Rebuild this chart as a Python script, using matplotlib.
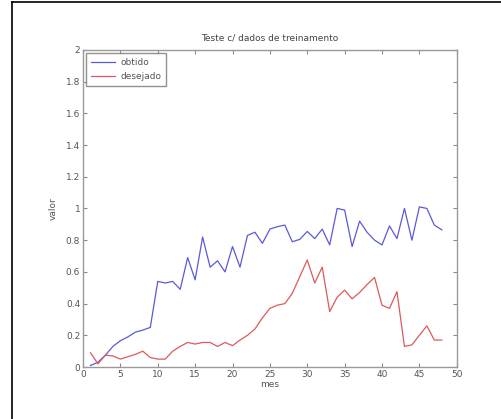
import matplotlib
matplotlib.use("Agg")
import matplotlib.pyplot as plt
from matplotlib.lines import Line2D

meses = list(range(1, 49))
obtido = [0.01, 0.03, 0.075, 0.13, 0.166, 0.19, 0.22, 0.233, 0.25, 0.54,
          0.53, 0.54, 0.49, 0.69, 0.55, 0.82, 0.63, 0.67, 0.60, 0.76,
          0.63, 0.83, 0.85, 0.78, 0.87, 0.885, 0.895, 0.79, 0.805, 0.855,
          0.81, 0.87, 0.77, 1.0, 0.99, 0.76, 0.92, 0.85, 0.80, 0.77,
          0.89, 0.81, 1.0, 0.80, 1.01, 1.0, 0.895, 0.865]
desejado = [0.09, 0.02, 0.075, 0.07, 0.05, 0.065, 0.08, 0.10, 0.06, 0.05,
            0.05, 0.10, 0.13, 0.155, 0.145, 0.155, 0.155, 0.13, 0.155, 0.135,
            0.17, 0.20, 0.24, 0.31, 0.37, 0.39, 0.40, 0.465, 0.57, 0.675,
            0.53, 0.63, 0.35, 0.44, 0.485, 0.43, 0.47, 0.52, 0.565, 0.39,
            0.37, 0.475, 0.13, 0.14, 0.20, 0.26, 0.17, 0.17]
xticks = [0, 5, 10, 15, 20, 25, 30, 35, 40, 45, 50]
yticks = [0, 0.2, 0.4, 0.6, 0.8, 1, 1.2, 1.4, 1.6, 1.8, 2]
ytick_labels = ["0", "0.2", "0.4", "0.6", "0.8", "1", "1.2", "1.4", "1.6", "1.8", "2"]

fig = plt.figure(figsize=(5.01, 4.19), dpi=100)
ax = fig.add_axes([0.1657, 0.124, 0.746, 0.757])

ax.plot(meses, obtido, color="#5a5ad8", lw=0.9, label="obtido")
ax.plot(meses, desejado, color="#dd5a5a", lw=0.9, label="desejado")

ax.set_xlim(0, 50)
ax.set_ylim(0, 2)
ax.set_xticks(xticks)
ax.set_yticks(yticks)
ax.set_yticklabels(ytick_labels)

for s in ax.spines.values():
    s.set_color("#9a9a9a")
    s.set_linewidth(1.0)
ax.tick_params(direction="in", length=3, width=0.8, color="#8a8a8a",
               labelsize=6.5, labelcolor="#555555", pad=2,
               top=True, right=True)

ax.set_title("Teste c/ dados de treinamento", fontsize=6.5, color="#444444", pad=7)
ax.set_xlabel("mes", fontsize=6.5, color="#555555", labelpad=1)
ax.set_ylabel("valor", fontsize=6.5, color="#555555", labelpad=6)

leg = ax.legend(loc="upper left", fontsize=6.5, frameon=True, fancybox=False,
                edgecolor="#777777", borderpad=0.55, handlelength=2.6,
                handletextpad=0.6, labelspacing=0.55, borderaxespad=0.35)
leg.get_frame().set_linewidth(1.0)
for t in leg.get_texts():
    t.set_color("#555555")

# scan frame lines (top and left)
fig.add_artist(Line2D([12 / 501, 1], [1 - 2 / 419, 1 - 2 / 419],
                      transform=fig.transFigure, color="black", lw=1.2))
fig.add_artist(Line2D([12 / 501, 12 / 501], [0, 1 - 2 / 419],
                      transform=fig.transFigure, color="black", lw=1.2))

fig.savefig("out.png", dpi=100)
